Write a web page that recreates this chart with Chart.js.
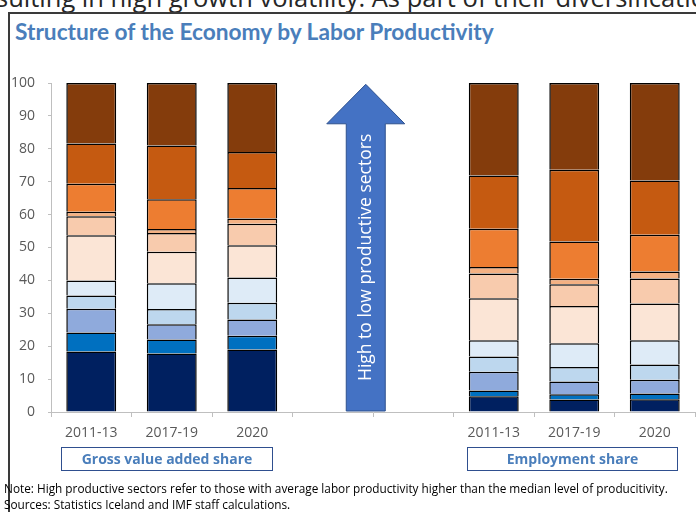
<!DOCTYPE html>
<html>
<head>
<meta charset="utf-8">
<script src="https://cdn.jsdelivr.net/npm/chart.js@4"></script>
<style>
  html, body { margin: 0; padding: 0; background: #fff; }
  body { position: relative; width: 696px; height: 512px; overflow: hidden; font-family: 'Open Sans', sans-serif; }
  #lead { position: absolute; left: -4px; top: -17px; font-size: 25.5px; line-height: 28px; color: #262626; white-space: nowrap; }
  #frame { position: absolute; left: 8px; top: 12px; width: 720px; height: 540px; border-left: 2px solid #3a3a3a; border-top: 2px solid #3a3a3a; }
  #title { position: absolute; left: 15px; top: 18px; font-family: Lato, sans-serif; font-weight: 700; font-size: 22.7px; color: #4a7ebb; white-space: nowrap; }
  #chart { position: absolute; left: 0; top: 0; }
  .panel { position: absolute; top: 447px; height: 22px; border: 1.5px solid #2f4f8f; color: #4a7ebb; font-weight: 700; font-size: 14px; line-height: 22px; text-align: center; font-family: 'Open Sans', sans-serif; }
  .note { position: absolute; left: 4px; font-size: 11.8px; color: #000; white-space: nowrap; font-family: 'Open Sans', sans-serif; }
</style>
</head>
<body>
<div id="lead">sulting in high growth volatility. As part of their diversification</div>
<div id="frame"></div>
<div id="title">Structure of the Economy by Labor Productivity</div>
<canvas id="chart" width="696" height="512"></canvas>
<div class="panel" style="left:61px;width:210px;">Gross value added share</div>
<div class="panel" style="left:467px;width:209px;">Employment share</div>
<div class="note" style="top:480px;">Note: High productive sectors refer to those with average labor productivity higher than the median level of producitivity.</div>
<div class="note" style="top:496px;">Sources: Statistics Iceland and IMF staff calculations.</div>
<script>
// Periods on the x axis; the two empty slots leave room for the arrow
const periods = ['2011-13', '2017-19', '2020', '', '', '2011-13', '2017-19', '2020'];
const yTicks = [0, 10, 20, 30, 40, 50, 60, 70, 80, 90, 100];

// Shares (%) per sector group, highest productivity first (bottom of stack)
const sector01 = [18.4, 17.8, 19.0, null, null, 4.8, 3.8, 3.9];
const sector02 = [5.8, 4.2, 4.2, null, null, 1.7, 1.6, 1.7];
const sector03 = [7.2, 4.7, 4.9, null, null, 5.7, 3.9, 4.2];
const sector04 = [4.0, 4.6, 5.1, null, null, 4.7, 4.4, 4.6];
const sector05 = [4.6, 7.8, 7.7, null, null, 4.9, 7.2, 7.4];
const sector06 = [13.7, 9.6, 9.8, null, null, 12.8, 11.3, 11.2];
const sector07 = [5.8, 5.7, 6.5, null, null, 7.5, 6.6, 7.6];
const sector08 = [1.4, 1.2, 1.6, null, null, 2.0, 1.7, 2.1];
const sector09 = [8.5, 9.1, 9.3, null, null, 11.6, 11.3, 11.2];
const sector10 = [12.2, 16.3, 10.9, null, null, 16.2, 21.8, 16.5];
const sector11 = [18.4, 19.0, 21.0, null, null, 28.1, 26.4, 29.6];

const sectorSeries = [sector01, sector02, sector03, sector04, sector05, sector06,
                      sector07, sector08, sector09, sector10, sector11];
const sectorColors = ['#002060', '#0070c0', '#8faadc', '#bdd7ee', '#deebf7', '#fbe5d6',
                      '#f8cbad', '#f4b183', '#ed7d31', '#c55a11', '#843c0c'];

const arrowLabel = 'High to low productive sectors';

// Big up-arrow between the two panels, placed with the chart's own scales
const arrowPlugin = {
    id: 'arrow',
    afterDatasetsDraw(chart) {
        const { ctx, scales: { x, y } } = chart;
        const p3 = x.getPixelForValue(3);
        const p4 = x.getPixelForValue(4);
        const cx = p3 + 0.41 * (p4 - p3);
        const yBase = y.getPixelForValue(0) - 1;
        const yTip = y.getPixelForValue(99.6);
        const yNeck = y.getPixelForValue(87.6);
        const shaft = 19.5, head = 39;

        ctx.save();
        ctx.beginPath();
        ctx.moveTo(cx - shaft, yBase);
        ctx.lineTo(cx - shaft, yNeck);
        ctx.lineTo(cx - head, yNeck);
        ctx.lineTo(cx, yTip);
        ctx.lineTo(cx + head, yNeck);
        ctx.lineTo(cx + shaft, yNeck);
        ctx.lineTo(cx + shaft, yBase);
        ctx.closePath();
        ctx.fillStyle = '#4472c4';
        ctx.fill();
        ctx.lineWidth = 1;
        ctx.strokeStyle = '#2f528f';
        ctx.stroke();

        ctx.translate(cx, y.getPixelForValue(47));
        ctx.rotate(-Math.PI / 2);
        ctx.fillStyle = '#ffffff';
        ctx.font = "17.5px 'Open Sans', sans-serif";
        ctx.textAlign = 'center';
        ctx.textBaseline = 'middle';
        ctx.fillText(arrowLabel, 0, 0);
        ctx.restore();
    }
};

// Each segment outlines its top and sides, so shared edges stay one line thick
const datasets = sectorSeries.map((values, i) => ({
    data: values,
    backgroundColor: sectorColors[i],
    borderColor: '#000000',
    borderWidth: 1.5,
    borderSkipped: 'start',
    barPercentage: 0.62,
    categoryPercentage: 1.0,
}));

new Chart(document.getElementById('chart'), {
    type: 'bar',
    data: { labels: periods, datasets: datasets },
    plugins: [arrowPlugin],
    options: {
        responsive: false,
        animation: false,
        layout: { padding: { left: 9, right: 1, top: 83, bottom: 67 } },
        plugins: {
            legend: { display: false },
            tooltip: { enabled: false },
        },
        scales: {
            x: {
                stacked: true,
                afterFit: (scale) => { scale.height = 33; },
                border: { color: '#bfbfbf', width: 1 },
                grid: { drawOnChartArea: false, tickLength: 5, color: '#bfbfbf', offset: true },
                ticks: {
                    padding: 8,
                    maxRotation: 0,
                    autoSkip: false,
                    color: '#595959',
                    font: { family: "'Open Sans', sans-serif", size: 14 },
                },
            },
            y: {
                stacked: true,
                min: 0,
                max: 100,
                afterFit: (scale) => { scale.width = 42; },
                afterBuildTicks: (scale) => { scale.ticks = yTicks.map((v) => ({ value: v })); },
                border: { color: '#bfbfbf', width: 1 },
                grid: { drawOnChartArea: false, tickLength: 3, color: '#bfbfbf' },
                ticks: {
                    padding: 13,
                    color: '#595959',
                    font: { family: "'Open Sans', sans-serif", size: 14 },
                },
            },
        },
    },
});
</script>
</body>
</html>
